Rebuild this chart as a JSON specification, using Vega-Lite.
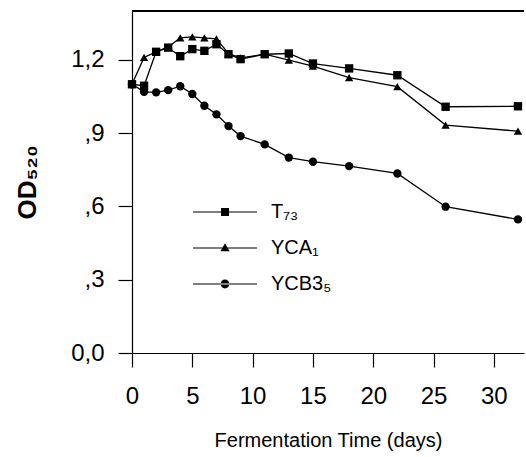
{
  "$schema": "https://vega.github.io/schema/vega-lite/v6.json",
  "autosize": "none",
  "width": 392,
  "height": 342,
  "padding": {"left": 132, "top": 11, "right": 2, "bottom": 104},
  "background": "white",
  "config": {
    "view": {"stroke": null},
    "font": "Liberation Sans",
    "axis": {"grid": false, "domainColor": "black", "tickColor": "black", "labelColor": "black", "titleColor": "black", "domainWidth": 1.2, "tickWidth": 1.2, "tickSize": 14, "labelFont": "Liberation Sans", "titleFont": "Liberation Sans"}
  },
  "data": {"values": [
    {"series": "T₇₃", "day": 0, "od": 1.10},
    {"series": "T₇₃", "day": 1, "od": 1.094},
    {"series": "T₇₃", "day": 2, "od": 1.233},
    {"series": "T₇₃", "day": 3, "od": 1.25},
    {"series": "T₇₃", "day": 4, "od": 1.215},
    {"series": "T₇₃", "day": 5, "od": 1.244},
    {"series": "T₇₃", "day": 6, "od": 1.237},
    {"series": "T₇₃", "day": 7, "od": 1.264},
    {"series": "T₇₃", "day": 8, "od": 1.223},
    {"series": "T₇₃", "day": 9, "od": 1.203},
    {"series": "T₇₃", "day": 11, "od": 1.223},
    {"series": "T₇₃", "day": 13, "od": 1.226},
    {"series": "T₇₃", "day": 15, "od": 1.185},
    {"series": "T₇₃", "day": 18, "od": 1.165},
    {"series": "T₇₃", "day": 22, "od": 1.137},
    {"series": "T₇₃", "day": 26, "od": 1.008},
    {"series": "T₇₃", "day": 32, "od": 1.01},
    {"series": "YCA₁", "day": 0, "od": 1.10},
    {"series": "YCA₁", "day": 1, "od": 1.21},
    {"series": "YCA₁", "day": 2, "od": 1.233},
    {"series": "YCA₁", "day": 3, "od": 1.253},
    {"series": "YCA₁", "day": 4, "od": 1.29},
    {"series": "YCA₁", "day": 5, "od": 1.294},
    {"series": "YCA₁", "day": 6, "od": 1.29},
    {"series": "YCA₁", "day": 7, "od": 1.286},
    {"series": "YCA₁", "day": 8, "od": 1.226},
    {"series": "YCA₁", "day": 9, "od": 1.208},
    {"series": "YCA₁", "day": 11, "od": 1.223},
    {"series": "YCA₁", "day": 13, "od": 1.199},
    {"series": "YCA₁", "day": 15, "od": 1.174},
    {"series": "YCA₁", "day": 18, "od": 1.127},
    {"series": "YCA₁", "day": 22, "od": 1.09},
    {"series": "YCA₁", "day": 26, "od": 0.933},
    {"series": "YCA₁", "day": 32, "od": 0.908},
    {"series": "YCB3₅", "day": 0, "od": 1.10},
    {"series": "YCB3₅", "day": 1, "od": 1.069},
    {"series": "YCB3₅", "day": 2, "od": 1.067},
    {"series": "YCB3₅", "day": 3, "od": 1.076},
    {"series": "YCB3₅", "day": 4, "od": 1.092},
    {"series": "YCB3₅", "day": 5, "od": 1.06},
    {"series": "YCB3₅", "day": 6, "od": 1.012},
    {"series": "YCB3₅", "day": 7, "od": 0.977},
    {"series": "YCB3₅", "day": 8, "od": 0.929},
    {"series": "YCB3₅", "day": 9, "od": 0.888},
    {"series": "YCB3₅", "day": 11, "od": 0.854},
    {"series": "YCB3₅", "day": 13, "od": 0.80},
    {"series": "YCB3₅", "day": 15, "od": 0.783},
    {"series": "YCB3₅", "day": 18, "od": 0.765},
    {"series": "YCB3₅", "day": 22, "od": 0.735},
    {"series": "YCB3₅", "day": 26, "od": 0.599},
    {"series": "YCB3₅", "day": 32, "od": 0.547}
  ]},
  "layer": [
    {
      "mark": {"type": "rule", "color": "black", "strokeWidth": 1.2},
      "encoding": {"y": {"datum": 1.4, "type": "quantitative"}}
    },
    {
      "mark": {"type": "line", "color": "black", "strokeWidth": 1.3},
      "encoding": {
        "x": {"field": "day", "type": "quantitative", "scale": {"domain": [0, 32.5], "nice": false},
              "axis": {"values": [0, 5, 10, 15, 20, 25, 30], "labelFontSize": 24, "labelPadding": 17, "title": "Fermentation Time (days)", "titleFontSize": 20, "titleFontWeight": "normal", "titlePadding": 22, "labelFlush": false}},
        "y": {"field": "od", "type": "quantitative", "scale": {"domain": [0, 1.4], "nice": false, "zero": true},
              "axis": {"values": [0, 0.3, 0.6, 0.9, 1.2], "labelFontSize": 24, "labelPadding": 14, "labelExpr": "datum.value == 0 ? '0,0' : (datum.value >= 1 ? replace(format(datum.value, '.1f'), '.', ',') : replace(format(datum.value, '.1f'), '0.', ','))", "title": "OD₅₂₀", "titleFontSize": 26, "titleFontWeight": "bold", "titlePadding": 30, "labelFlush": false}},
        "detail": {"field": "series"}
      }
    },
    {
      "mark": {"type": "point", "filled": true, "color": "black", "opacity": 1},
      "encoding": {
        "x": {"field": "day", "type": "quantitative"},
        "y": {"field": "od", "type": "quantitative"},
        "shape": {"field": "series", "type": "nominal", "scale": {"range": ["square", "triangle-up", "circle"]}, "legend": null},
        "size": {"value": 70}
      }
    },
    {
      "mark": {"type": "point", "filled": true, "color": "black", "opacity": 0},
      "encoding": {
        "x": {"field": "day", "type": "quantitative"},
        "y": {"field": "od", "type": "quantitative"},
        "shape": {"field": "series", "type": "nominal",
                  "scale": {"range": ["M-8,-0.15H8V0.15H-8ZM-1,-1H1V1H-1Z", "M-8,-0.15H8V0.15H-8ZM0,-1.2L1.15,0.8H-1.15Z", "M-8,-0.15H8V0.15H-8ZM-1.1,0A1.1,1.1 0 1,0 1.1,0A1.1,1.1 0 1,0 -1.1,0Z"]},
                  "legend": {"title": null, "orient": "none", "legendX": 83, "legendY": 191, "padding": 0, "symbolSize": 64, "symbolOpacity": 1, "symbolFillColor": "black", "symbolStrokeColor": "black", "symbolStrokeWidth": 0, "labelFontSize": 20, "labelColor": "black", "labelOffset": 36, "rowPadding": 16, "labelFont": "Liberation Sans"}},
        "size": {"value": 64}
      }
    }
  ],
  "resolve": {"scale": {"shape": "independent"}, "legend": {"shape": "independent"}}
}
